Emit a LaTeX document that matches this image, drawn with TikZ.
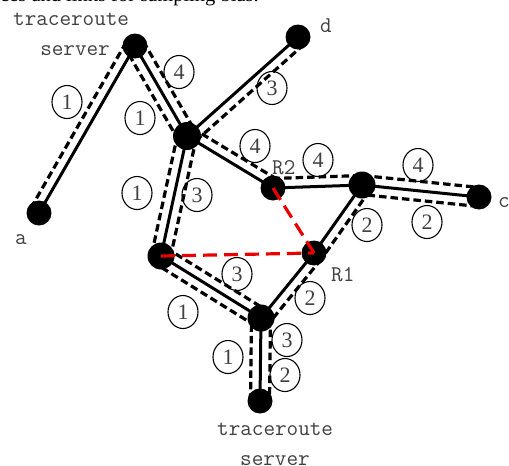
\documentclass[tikz,border=0pt]{standalone}
\usepackage{fontspec}
\setmainfont{Liberation Serif}
\usetikzlibrary{calc,shapes.geometric,backgrounds}
\newcommand\dside[2]{\draw[dpath] ($(#1.center)!9.5pt!90:(#2.center)$) -- ($(#2.center)!9.5pt!-90:(#1.center)$);}
\begin{document}
\begin{tikzpicture}[x=1pt,y=-1pt,
  dot/.style={circle,fill=black,inner sep=0pt,minimum size=25pt},
  edge/.style={line width=3pt},
  dpath/.style={line width=3.2pt,dash pattern=on 7.5pt off 4pt},
  rpath/.style={line width=3.2pt,draw={rgb,255:red,235;green,0;blue,0},dash pattern=on 14pt off 7pt},
  num/.style={ellipse,draw,line width=1.1pt,minimum width=30pt,minimum height=33pt,inner sep=0pt,font=\fontsize{22}{22}\selectfont,text=black!75},
  lab/.style={font=\ttfamily\fontsize{22.5}{22.5}\selectfont,text=black!75,inner sep=0pt}]
\useasboundingbox (0,0) rectangle (509,466);
\begin{scope}
\clip (0,0) rectangle (509,466);
\node[anchor=base west,font=\fontsize{20.5}{20.5}\selectfont,inner sep=0pt] (cap) at (0,1) {ces and links for sampling bias.};
\end{scope}
% nodes
\node[dot] (ts) at (135,46) {};
\node[dot] (a) at (39,213) {};
\node[dot] (d) at (298,37) {};
\node[dot,minimum size=28pt] (m) at (187,136) {};
\node[dot] (r2) at (273,188) {};
\node[dot,minimum size=27pt] (x) at (362,185) {};
\node[dot] (c) at (479,197) {};
\node[dot] (r1) at (314,253) {};
\node[dot,minimum size=27pt] (l) at (161,256) {};
\node[dot,minimum size=27pt] (b) at (261,318) {};
\node[dot] (tsb) at (260,401) {};
\begin{pgfonlayer}{background}
% solid links
\draw[edge] (ts.center) -- (a.center);
\draw[edge] (ts.center) -- (m.center);
\draw[edge] (m.center) -- (d.center);
\draw[edge] (m.center) -- (r2.center);
\draw[edge] (m.center) -- (l.center);
\draw[edge] (r2.center) -- (x.center);
\draw[edge] (x.center) -- (c.center);
\draw[edge] (x.center) -- (r1.center);
\draw[edge] (l.center) -- (b.center);
\draw[edge] (b.center) -- (r1.center);
\draw[edge] (b.center) -- (tsb.center);
% dashed traceroute paths
\dside{a}{ts}
\dside{ts}{m}
\dside{m}{ts}
\dside{d}{m}
\dside{m}{r2}
\dside{m}{l}
\dside{l}{m}
\dside{r2}{x}
\dside{x}{c}
\dside{c}{x}
\dside{x}{r1}
\dside{l}{b}
\dside{b}{l}
\dside{r1}{b}
\dside{b}{tsb}
\dside{tsb}{b}
\end{pgfonlayer}
% red dashed links
\draw[rpath] (l.center) -- (r1.center);
\draw[rpath] (r2.center) -- (r1.center);
% labels
\node[lab,anchor=base west] (t1) at (13,25) {traceroute};
\node[lab,anchor=base east] (s1) at (110,55) {server};
\node[lab,anchor=base west] (t2) at (217,435) {traceroute};
\node[lab,anchor=base west] (s2) at (240,465) {server};
\node[lab,anchor=base west] (ld) at (320,32) {d};
\node[lab,anchor=base west] (la) at (15,244) {a};
\node[lab,anchor=base west] (lc) at (498,207) {c};
\node[lab,anchor=base west] (lr2) at (272,174) {R2};
\node[lab,anchor=base west] (lr1) at (331,281) {R1};
% circled path numbers
\node[num] (n1) at (67,102) {1};
\node[num] (n2) at (179,72) {4};
\node[num] (n3) at (140,118) {1};
\node[num] (n4) at (272,88) {3};
\node[num] (n5) at (255,146) {4};
\node[num] (n6) at (137,193) {1};
\node[num] (n7) at (197,195) {3};
\node[num] (n8) at (318,160) {4};
\node[num] (n9) at (418,165) {4};
\node[num] (n10) at (367,225) {2};
\node[num] (n11) at (427,222) {2};
\node[num] (n12) at (237,274) {3};
\node[num] (n13) at (183,312) {1};
\node[num] (n14) at (310,298) {2};
\node[num] (n15) at (287,340) {3};
\node[num] (n16) at (228,357) {1};
\node[num] (n17) at (285,375) {2};
\end{tikzpicture}
\end{document}
